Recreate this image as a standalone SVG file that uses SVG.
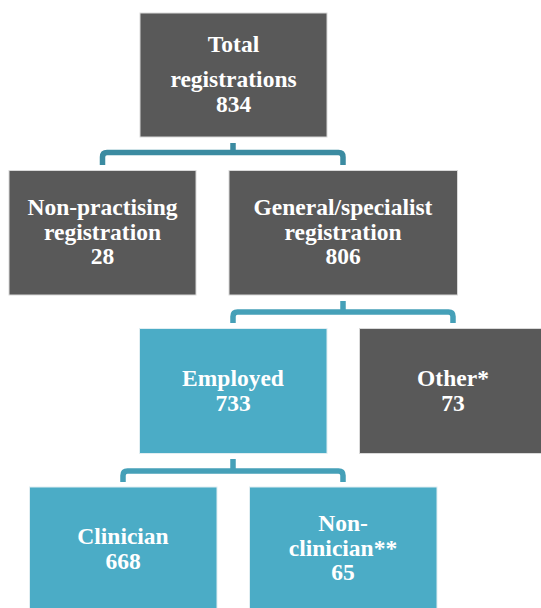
<svg xmlns="http://www.w3.org/2000/svg" width="541" height="608" viewBox="0 0 541 608">
<style>
.dark{fill:#595959;stroke:#d9d9d9;stroke-width:1}
.teal{fill:#4BACC6;stroke:#e0eef2;stroke-width:1}
.t{font-family:"Liberation Serif","Times New Roman",serif;font-weight:bold;font-size:23.5px;fill:#ffffff;text-anchor:middle}
.c1{fill:none;stroke:#3B8BA1;stroke-width:5.5}
.c2{fill:none;stroke:#45A0B8;stroke-width:5.5}
</style>
<rect width="541" height="608" fill="#ffffff"/>
<g id="connectors">
<path class="c1" d="M233,143 V152.5 M102.5,165 V157 Q102.5,152.5 107,152.5 H338.5 Q343,152.5 343,157 V165"/>
<path class="c2" d="M343,301 V312 M233,323 V316.5 Q233,312 237.5,312 H448.5 Q453,312 453,316.5 V323"/>
<path class="c2" d="M233,459 V471 M123,482 V475.5 Q123,471 127.5,471 H338.5 Q343,471 343,475.5 V482"/>
</g>
<g id="total">
<rect class="dark" x="140" y="13" width="187" height="124"/>
<text class="t" x="233.5" y="52">Total</text>
<text class="t" x="233.5" y="87">registrations</text>
<text class="t" x="233.5" y="112">834</text>
</g>
<g id="nonpractising">
<rect class="dark" x="9" y="170.5" width="187" height="124.5"/>
<text class="t" x="102.5" y="215">Non-practising</text>
<text class="t" x="102.5" y="239.5">registration</text>
<text class="t" x="102.5" y="264">28</text>
</g>
<g id="general">
<rect class="dark" x="229" y="170.5" width="228.5" height="124.5"/>
<text class="t" x="343" y="215">General/specialist</text>
<text class="t" x="343" y="239.5">registration</text>
<text class="t" x="343" y="264">806</text>
</g>
<g id="employed">
<rect class="teal" x="139.5" y="328.5" width="187.5" height="125"/>
<text class="t" x="233" y="386">Employed</text>
<text class="t" x="233" y="411">733</text>
</g>
<g id="other">
<rect class="dark" x="359.5" y="328.5" width="183" height="125"/>
<text class="t" x="453" y="386">Other*</text>
<text class="t" x="453" y="411">73</text>
</g>
<g id="clinician">
<rect class="teal" x="29.5" y="487" width="187.5" height="125"/>
<text class="t" x="123" y="544">Clinician</text>
<text class="t" x="123" y="569">668</text>
</g>
<g id="nonclinician">
<rect class="teal" x="249.5" y="487" width="187.5" height="125"/>
<text class="t" x="343" y="531">Non-</text>
<text class="t" x="343" y="555.5">clinician**</text>
<text class="t" x="343" y="580">65</text>
</g>
</svg>
